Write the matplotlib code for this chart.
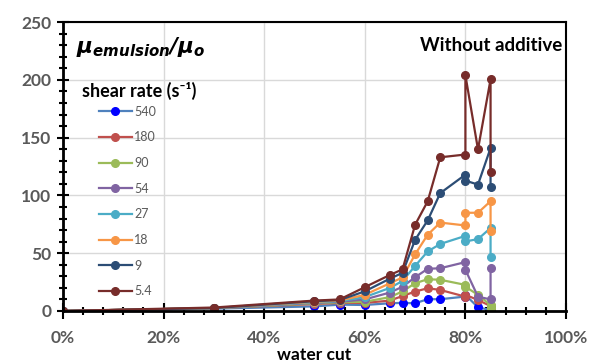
import matplotlib
matplotlib.use('Agg')
import matplotlib.pyplot as plt
from matplotlib.ticker import MultipleLocator, PercentFormatter

plt.rcParams['font.family'] = ['Lato', 'DejaVu Sans']
plt.rcParams['mathtext.fontset'] = 'custom'
plt.rcParams['mathtext.it'] = 'DejaVu Sans:italic:bold'
plt.rcParams['mathtext.rm'] = 'DejaVu Sans:italic:bold'

# water cut (fraction)
wc = [0, 0.30, 0.50, 0.55, 0.60, 0.65, 0.675, 0.70, 0.725, 0.75, 0.80, 0.80, 0.825, 0.85, 0.85]

# relative viscosity per shear rate (1/s)
r540 = [0, 2, 4, 5.5, 5.2, 6.7, 7, 6.7, 10.2, 10.2, 12.5, 13.9, 3.2, 0.8, 0.3]
r180 = [0, 2.5, 6, 7, 7, 9, 13, 16.8, 19.7, 18.2, 12.4, 14, 9.5, 4.3, 3]
r90 = [0, 2.5, 6.5, 7.5, 8, 12, 17, 24, 27.5, 27, 22.6, 21, 14, 5, 2.3]
r54 = [0, 2.5, 7, 8, 10, 16, 21, 29.2, 36.5, 37, 42.3, 35.6, 12.4, 10, 37.6]
r27 = [0, 2.5, 7.5, 8.5, 12, 20, 26, 39, 51.5, 58, 65, 60.2, 62.2, 71.8, 46.6]
r18 = [0, 2.5, 8, 9, 14, 24, 29, 49, 66, 76.5, 74, 85, 85, 95, 69.5]
r9 = [0, 2.5, 8.5, 9.5, 17, 28, 33, 61.6, 78.4, 102, 118, 112.8, 109.4, 141, 107.4]
r5_4 = [0, 3, 9, 10, 20.6, 31.2, 36, 74.6, 94.9, 133, 135.4, 204, 139.8, 200.5, 120]

labels = ['540', '180', '90', '54', '27', '18', '9', '5.4']
series = [r540, r180, r90, r54, r27, r18, r9, r5_4]
line_colors = ['#4F81BD', '#C0504D', '#9BBB59', '#8064A2', '#4BACC6', '#F79646', '#2C4D75', '#772C2A']
marker_colors = ['#0000FF', '#C0504D', '#9BBB59', '#8064A2', '#4BACC6', '#F79646', '#2C4D75', '#772C2A']

fig = plt.figure(figsize=(5.93, 3.62), dpi=100)
ax = fig.add_axes([0.1062, 0.1409, 0.8483, 0.7981])

for ys, lab, lc, mc in zip(series, labels, line_colors, marker_colors):
    ax.plot(wc, ys, color=lc, lw=1.6, marker='o', ms=5.5,
            markerfacecolor=mc, markeredgecolor=mc, label=lab)

ax.set_xlim(0, 1)
ax.set_ylim(0, 250)
ax.xaxis.set_major_locator(MultipleLocator(0.2))
ax.xaxis.set_minor_locator(MultipleLocator(0.04))
ax.yaxis.set_major_locator(MultipleLocator(50))
ax.yaxis.set_minor_locator(MultipleLocator(10))
ax.xaxis.set_major_formatter(PercentFormatter(1.0, decimals=0))

ax.grid(True, which='major', color='#D9D9D9', lw=1)
ax.set_axisbelow(True)

ax.tick_params(which='major', direction='inout', length=9, width=1.5, color='black',
               labelsize=12.5, labelcolor='#595959', pad=4)
ax.tick_params(which='minor', direction='inout', length=6, width=1.5, color='black')
ax.tick_params(axis='x', which='major', length=11, pad=8)
for lbl in ax.get_xticklabels() + ax.get_yticklabels():
    lbl.set_fontweight('bold')

for side in ['left', 'bottom']:
    ax.spines[side].set_linewidth(2)
for side in ['top', 'right']:
    ax.spines[side].set_linewidth(1.5)

ax.set_xlabel('water cut', fontsize=12.5, fontweight='bold', labelpad=1)

ax.text(0.025, 0.955, r'$\mu_{emulsion}/\mu_o$', transform=ax.transAxes,
        fontsize=15.5, va='top', ha='left')
ax.text(0.993, 0.92, 'Without additive', transform=ax.transAxes,
        fontsize=13.5, fontweight='bold', va='center', ha='right')
ax.text(0.038, 0.762, 'shear rate (s\u207b\u00b9)', transform=ax.transAxes,
        fontsize=13, fontweight='bold', va='center', ha='left')

leg = ax.legend(loc='upper left', bbox_to_anchor=(0.072, 0.71), frameon=False,
                fontsize=9, labelspacing=1.09, handlelength=2.6, handletextpad=0.2,
                borderaxespad=0, borderpad=0)
for t in leg.get_texts():
    t.set_color('#595959')

fig.savefig('out.png', dpi=100)
